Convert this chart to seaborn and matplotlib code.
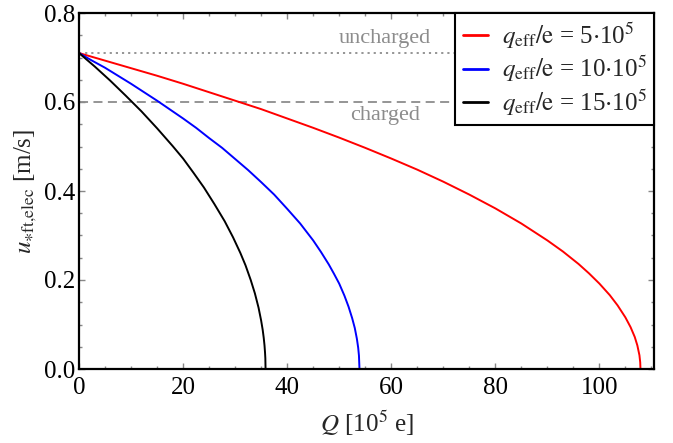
import matplotlib
matplotlib.use("Agg")
import matplotlib.pyplot as plt
from matplotlib.ticker import MultipleLocator, FormatStrFormatter
import pandas as pd
import seaborn as sns

# Friction velocity vs. particle charge for three effective charges
q_red = [0, 5, 10, 15, 20, 25, 30, 35, 40, 45, 50, 55, 60, 65, 70, 75, 80, 85, 90, 93,
         96, 98, 100, 102, 103.5, 105, 106, 106.8, 107.3, 107.7, 107.85, 107.9]
u_red = [0.710, 0.693, 0.676, 0.659, 0.641, 0.622, 0.603, 0.584, 0.563, 0.542, 0.520,
         0.497, 0.473, 0.448, 0.421, 0.392, 0.361, 0.327, 0.289, 0.264, 0.236, 0.215,
         0.192, 0.166, 0.143, 0.116, 0.094, 0.072, 0.053, 0.031, 0.015, 0.0]

q_blue = [0, 2.5, 5, 7.5, 10, 12.5, 15, 17.5, 20, 22.5, 25, 27.5, 30, 32.5, 35, 37.5, 40,
          42.5, 45, 46.5, 48, 49, 50, 51, 51.8, 52.5, 53, 53.4, 53.65, 53.8, 53.9]
u_blue = [0.710, 0.693, 0.677, 0.659, 0.641, 0.622, 0.603, 0.583, 0.563, 0.542, 0.519,
          0.497, 0.472, 0.447, 0.420, 0.392, 0.360, 0.327, 0.289, 0.263, 0.235, 0.214,
          0.192, 0.165, 0.140, 0.114, 0.092, 0.068, 0.048, 0.030, 0.0]

q_black = [0, 3, 6, 9, 12, 15, 18, 20, 22, 24, 26, 28, 29.6, 31, 32, 33, 33.8, 34.5,
           35.0, 35.3, 35.5, 35.65, 35.75, 35.81, 35.85]
u_black = [0.710, 0.680, 0.648, 0.614, 0.579, 0.541, 0.501, 0.473, 0.441, 0.408, 0.371,
           0.332, 0.296, 0.261, 0.233, 0.200, 0.170, 0.138, 0.109, 0.088, 0.070, 0.053,
           0.037, 0.024, 0.0]

series_labels = [r"$q_{\mathrm{eff}}/\mathrm{e}$ = 5${\cdot}$10$^5$",
                 r"$q_{\mathrm{eff}}/\mathrm{e}$ = 10${\cdot}$10$^5$",
                 r"$q_{\mathrm{eff}}/\mathrm{e}$ = 15${\cdot}$10$^5$"]
series_colors = ["#ff0000", "#0000ff", "#000000"]

u_uncharged = 0.71
u_charged = 0.60

frames = []
for q, u, lab in zip([q_red, q_blue, q_black], [u_red, u_blue, u_black], series_labels):
    frames.append(pd.DataFrame({"Q": q, "u": u, "series": lab}))
df = pd.concat(frames, ignore_index=True)

sns.set_style("ticks")
plt.rcParams["font.family"] = "serif"
plt.rcParams["font.serif"] = ["Liberation Serif", "DejaVu Serif"]
plt.rcParams["mathtext.fontset"] = "stix"

fig = plt.figure(figsize=(6.73, 4.43), dpi=100)
ax = fig.add_axes([79 / 673, 1 - 369 / 443, (654 - 79) / 673, (369 - 13) / 443])

# reference levels
ax.axhline(u_uncharged, color="#8c8c8c", lw=1.3, ls=(0, (1.2, 2.2)), zorder=1)
ax.axhline(u_charged, color="#8c8c8c", lw=1.3, ls=(0, (5, 3)), zorder=1)
ax.text(58.8, 0.742, "uncharged", color="#8c8c8c", fontsize=16, ha="center", va="center")
ax.text(58.8, 0.570, "charged", color="#8c8c8c", fontsize=16, ha="center", va="center")

sns.lineplot(data=df, x="Q", y="u", hue="series", hue_order=series_labels,
             palette=series_colors, sort=False, estimator=None, lw=1.4, ax=ax, legend=False)

handles = [plt.Line2D([], [], color=c, lw=2) for c in series_colors]
leg = ax.legend(handles, series_labels, loc="upper right", borderaxespad=0,
                fontsize=18, frameon=True, fancybox=False, handlelength=1.0,
                handletextpad=0.55, borderpad=0.3, labelspacing=0.12)
leg.get_frame().set_edgecolor("black")
leg.get_frame().set_linewidth(1.5)
leg.get_frame().set_alpha(1)

ax.set_xlim(0, 110.5)
ax.set_ylim(0, 0.8)
ax.xaxis.set_major_locator(MultipleLocator(20))
ax.xaxis.set_minor_locator(MultipleLocator(5))
ax.yaxis.set_major_locator(MultipleLocator(0.2))
ax.yaxis.set_minor_locator(MultipleLocator(0.05))
ax.yaxis.set_major_formatter(FormatStrFormatter("%.1f"))

ax.tick_params(which="both", direction="in", top=True, right=True, color="#888888",
               labelsize=18, labelcolor="black")
ax.tick_params(which="major", length=4, width=1)
ax.tick_params(which="minor", length=2.5, width=1)
ax.tick_params(axis="x", which="major", pad=6)
ax.tick_params(axis="y", which="major", pad=3)
for lbl in ax.get_xticklabels() + ax.get_yticklabels():
    lbl.set_fontfamily("Liberation Serif")
for sp in ax.spines.values():
    sp.set_color("black")
    sp.set_linewidth(1.6)

ax.set_xlabel(r"$Q$ [10$^5$ e]", fontsize=18, labelpad=7)
ax.set_ylabel(r"$u_{\ast\mathrm{ft{,}elec}}$ [m/s]", fontsize=18, labelpad=3)

fig.savefig("out.png", dpi=100)
